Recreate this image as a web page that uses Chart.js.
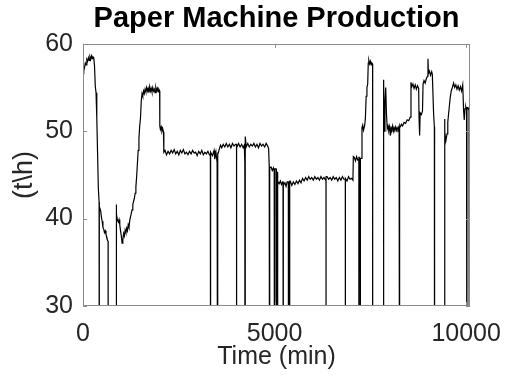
<!DOCTYPE html>
<html lang="en">
<head>
    <meta charset="UTF-8">
    <title>Paper Machine Production</title>
    <script src="https://cdn.jsdelivr.net/npm/chart.js"></script>
    <style>
        body {
            margin: 0;
            background-color: #fff;
        }
        .chart-container {
            width: 506px;
            height: 381px;
        }
    </style>
</head>
<body>
    <div class="chart-container">
        <canvas id="prodChart"></canvas>
    </div>

    <script>
        // Production samples (time in min, production in t/h)
        const times = [
            0, 20, 40, 60, 80, 100, 120, 140, 160, 180, 200, 220, 240, 260, 280, 300, 320, 340, 360, 380,
            400, 420, 440, 460, 480, 500, 520, 540, 560, 580, 600, 620, 640, 655,
            865, 880, 900, 920, 940, 960, 980, 1000, 1020, 1040, 1060, 1080, 1100, 1120, 1140, 1160,
            1180, 1200, 1220, 1240, 1260, 1280, 1300, 1320, 1340, 1360, 1380, 1400, 1420, 1440, 1460, 1480,
            1500, 1520, 1540, 1560, 1580, 1600, 1620, 1640, 1660, 1680, 1700, 1720, 1740, 1760, 1780, 1800,
            1820, 1840, 1860, 1880, 1900, 1920, 1940, 1960, 1980, 2000,
            2005, 2020, 2040, 2060, 2080, 2100,
            2110, 2140, 2180, 2220, 2260, 2300, 2340, 2380, 2420, 2460, 2500, 2540, 2580, 2620, 2660, 2700,
            2740, 2780, 2820, 2860, 2900, 2940, 2980, 3020, 3060, 3100, 3140, 3180, 3220, 3260, 3300, 3340,
            3380, 3420, 3440, 3470, 3500, 3530,
            3560, 3590, 3620, 3660, 3700, 3740, 3780, 3820, 3860, 3900, 3940, 3980, 4020, 4060, 4100, 4140,
            4180, 4210, 4220, 4240, 4260, 4300, 4340, 4380, 4420, 4460, 4500, 4540, 4580, 4620, 4660, 4700,
            4740, 4780, 4820, 4845,
            4860, 4880, 4910, 4940, 4970, 4990, 5020, 5060,
            5090, 5120, 5150, 5180, 5210, 5240, 5270, 5300, 5330, 5370, 5410, 5450, 5490, 5530, 5570, 5610,
            5650, 5690, 5730, 5770, 5810, 5850, 5890, 5930, 5970, 6010, 6050, 6090, 6130, 6170, 6210, 6250,
            6290, 6330, 6370, 6410, 6450, 6490, 6530, 6570, 6610, 6650, 6690, 6730, 6770, 6810, 6850, 6890,
            6930, 6970, 7010, 7045,
            7055, 7080, 7110, 7140, 7170, 7210, 7230, 7260,
            7281, 7300, 7320, 7350, 7370, 7390, 7410, 7430, 7445, 7460, 7480, 7500, 7520, 7540, 7558,
            7846, 7860, 7880, 7900, 7920, 7940, 7960, 7980, 8000, 8020, 8040, 8060, 8080, 8100, 8120, 8140,
            8160, 8180, 8200, 8220, 8250, 8280, 8310, 8340, 8380, 8420, 8460, 8500, 8540,
            8560, 8580, 8610, 8640, 8670, 8700, 8730, 8760, 8770, 8785, 8800, 8830, 8860,
            8875, 8900, 8930, 8960, 8990, 9003, 9015, 9040, 9070, 9100, 9117, 9150, 9170,
            9437, 9445, 9470, 9500, 9520, 9541, 9560, 9585, 9610, 9640, 9672, 9700, 9730, 9760, 9790, 9820,
            9850, 9880, 9910, 9933, 9950, 9970, 9990, 10010, 10040, 10060, 10085, 10095
        ];
        const production = [
            56.6, 56.9, 57.3, 57.8, 57.6, 58.2, 58.0, 58.4, 58.1, 58.5, 58.2, 58.6, 58.3, 58.5, 58.4, 57.5, 55.2, 54.4, 51.5, 47.5,
            43.5, 41.9, 41.4, 40.9, 40.2, 39.7, 39.0, 38.8, 38.4, 38.6, 38.2, 37.9, 37.5, 37.4,
            41.6, 40.5, 39.8, 39.6, 39.9, 39.3, 38.6, 38.0, 37.2, 37.6, 38.3, 38.0, 38.7, 38.4, 38.9, 38.6,
            39.3, 39.0, 39.8, 40.2, 40.6, 41.0, 41.6, 42.0, 42.3, 42.9, 43.6, 44.8, 46.3, 47.8, 49.2, 50.6,
            51.5, 53.4, 54.3, 54.0, 54.6, 54.3, 54.8, 54.5, 55.0, 54.6, 54.9, 54.4, 55.1, 54.6, 54.9, 54.5,
            55.0, 54.6, 54.8, 54.4, 55.0, 54.6, 54.9, 54.5, 54.8, 54.6,
            50.6, 50.2, 50.5, 50.0, 50.3, 49.9,
            47.6, 47.8, 47.3, 47.7, 47.4, 47.8, 47.5, 47.9, 47.4, 47.7, 47.3, 47.8, 47.5, 47.9, 47.4, 47.6,
            47.3, 47.7, 47.4, 47.8, 47.5, 47.6, 47.2, 47.7, 47.4, 47.8, 47.3, 47.6, 47.4, 47.7, 47.3, 47.6,
            47.2, 47.8, 46.8, 47.6, 46.4, 47.5,
            48.0, 48.4, 48.1, 48.5, 48.2, 48.6, 48.2, 48.5, 48.1, 48.6, 48.3, 48.5, 48.2, 48.6, 48.2, 48.5,
            48.1, 48.4, 46.4, 49.4, 48.2, 48.6, 48.2, 48.5, 48.3, 48.6, 48.2, 48.5, 48.1, 48.6, 48.3, 48.5,
            48.2, 48.6, 48.3, 48.0,
            46.0, 45.8, 45.9, 45.5, 45.8, 45.4, 45.7, 45.3,
            44.2, 44.0, 44.3, 43.9, 44.2, 43.8, 44.1, 43.7, 44.2, 43.9, 44.3, 43.8, 44.2, 43.9, 44.3, 44.0,
            44.4, 44.1, 44.6, 44.3, 44.7, 44.4, 44.8, 44.5, 44.7, 44.4, 44.8, 44.5, 44.7, 44.4, 44.8, 44.5,
            44.7, 44.4, 44.8, 44.5, 44.7, 44.4, 44.8, 44.5, 44.7, 44.3, 44.7, 44.4, 44.8, 44.5, 44.6, 44.3,
            44.8, 44.5, 44.6, 44.4,
            47.1, 47.0, 46.6, 47.1, 46.7, 47.0, 46.8, 46.9,
            50.4, 50.7, 50.1, 50.6, 51.5, 54.0, 55.0, 55.4, 57.8, 58.1, 57.7, 58.0, 57.6, 57.8, 57.7,
            55.9, 50.0, 53.2, 55.0, 52.0, 50.3, 50.6, 50.1, 50.5, 49.5, 50.4, 50.2, 50.6, 50.0, 50.4, 50.2,
            50.5, 50.1, 50.4, 50.2, 50.6, 50.5, 50.8, 50.6, 51.0, 50.9, 51.3, 51.2, 51.6,
            55.6, 55.1, 55.4, 54.9, 55.3, 54.8, 55.2, 54.9, 51.6, 49.5, 52.1, 51.9, 52.3,
            55.4, 55.8, 55.5, 56.0, 56.3, 58.3, 56.6, 56.9, 56.4, 56.8, 56.5, 52.0, 50.5,
            51.4, 49.9, 48.9, 49.7, 51.0, 52.0, 52.8, 53.9, 54.6, 55.0, 55.5, 55.0, 55.3, 54.8, 55.2, 54.7,
            55.1, 54.6, 55.3, 52.4, 51.3, 52.6, 52.8, 52.4, 52.7, 52.5, 52.8, 52.6
        ];

        // Short stops where production falls to zero for a moment
        const stops = [421, 3325, 3516, 4008, 4228, 4870, 5000, 5040, 5080, 5221, 5360, 5394,
                       6343, 6847, 7200, 7240, 8263, 10020, 10075];
        // Longer periods with the machine down
        const outages = [[657, 864], [7560, 7845], [9176, 9436]];

        const xTicks = [0, 5000, 10000];
        const yTicks = [30, 40, 50, 60];

        // Build the point list for the line
        const points = times.map((t, i) => ({ x: t, y: production[i] }));
        stops.forEach(s => {
            const i = times.findIndex(t => t > s);
            points.push({ x: s - 1, y: production[i - 1] }, { x: s, y: 0 }, { x: s + 1, y: production[i] });
        });
        outages.forEach(([a, b]) => points.push({ x: a, y: 0 }, { x: b, y: 0 }));
        points.sort((p, q) => p.x - q.x);

        const fontFamily = '"Liberation Sans", Arial, Helvetica, sans-serif';
        const textColor = '#262626';
        const boxColor = '#8a8a8a';

        // Box round the axes plus small inward tick marks, like MATLAB
        const boxPlugin = {
            id: 'boxPlugin',
            afterDraw(chart) {
                const { ctx, chartArea: a, scales: { x, y } } = chart;
                ctx.save();
                ctx.strokeStyle = boxColor;
                ctx.lineWidth = 1;
                ctx.strokeRect(Math.round(a.left) + 0.5, Math.round(a.top) + 0.5,
                    Math.round(a.right) - Math.round(a.left) - 1, Math.round(a.bottom) - Math.round(a.top) - 1);
                ctx.beginPath();
                xTicks.forEach(v => {
                    const px = Math.round(x.getPixelForValue(v)) + 0.5;
                    ctx.moveTo(px, a.bottom); ctx.lineTo(px, a.bottom - 4);
                    ctx.moveTo(px, a.top); ctx.lineTo(px, a.top + 4);
                });
                yTicks.forEach(v => {
                    const py = Math.round(y.getPixelForValue(v)) + 0.5;
                    ctx.moveTo(a.left, py); ctx.lineTo(a.left + 4, py);
                    ctx.moveTo(a.right, py); ctx.lineTo(a.right - 4, py);
                });
                ctx.stroke();
                ctx.restore();
            }
        };

        new Chart(document.getElementById('prodChart'), {
            type: 'line',
            data: {
                datasets: [{
                    label: 'Production',
                    data: points,
                    borderColor: '#000',
                    borderWidth: 1.2,
                    pointRadius: 0,
                    tension: 0
                }]
            },
            options: {
                responsive: true,
                maintainAspectRatio: false,
                animation: false,
                events: [],
                layout: {
                    padding: { left: 0, right: 36, top: 0, bottom: 0 }
                },
                scales: {
                    x: {
                        type: 'linear',
                        min: 0,
                        max: 10100,
                        grid: { display: false, drawTicks: false },
                        border: { display: false },
                        afterBuildTicks: scale => { scale.ticks = xTicks.map(v => ({ value: v })); },
                        ticks: {
                            padding: 13,
                            maxRotation: 0,
                            autoSkip: false,
                            color: textColor,
                            font: { family: fontFamily, size: 25 },
                            callback: value => String(value)
                        },
                        title: {
                            display: true,
                            text: 'Time (min)',
                            color: textColor,
                            padding: { top: 0, bottom: 9 },
                            font: { family: fontFamily, size: 25 }
                        },
                        afterFit: scale => {
                            scale.height = 75;
                            scale.paddingLeft = 0;
                            scale.paddingRight = 0;
                        }
                    },
                    y: {
                        min: 30,
                        max: 60,
                        grid: { display: false, drawTicks: false },
                        border: { display: false },
                        afterBuildTicks: scale => { scale.ticks = yTicks.map(v => ({ value: v })); },
                        ticks: {
                            padding: 10,
                            color: textColor,
                            font: { family: fontFamily, size: 25 },
                            callback: value => String(value)
                        },
                        title: {
                            display: true,
                            text: '(t\\h)',
                            color: textColor,
                            padding: { top: 8, bottom: 0 },
                            font: { family: fontFamily, size: 27 }
                        },
                        afterFit: scale => { scale.width = 83; }
                    }
                },
                plugins: {
                    legend: { display: false },
                    tooltip: { enabled: false },
                    title: {
                        display: true,
                        fullSize: false,
                        text: 'Paper Machine Production',
                        color: '#000',
                        padding: { top: 2, bottom: 7 },
                        font: { family: fontFamily, size: 29, weight: 'bold' }
                    }
                }
            },
            plugins: [boxPlugin]
        });
    </script>
</body>
</html>
